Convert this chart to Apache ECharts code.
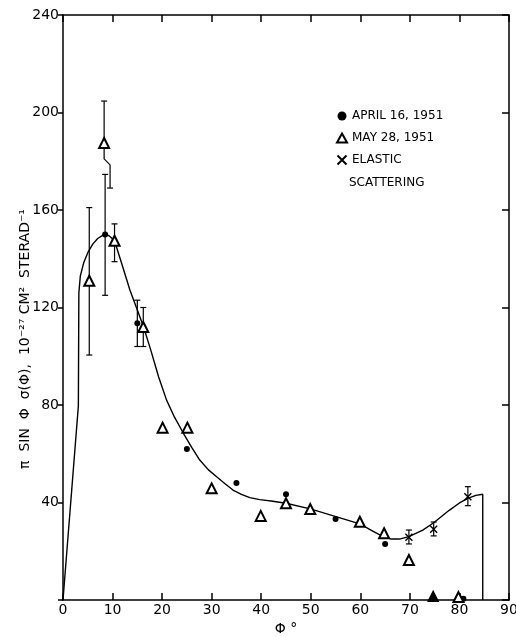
<!DOCTYPE html>
<html>
<head>
<meta charset="utf-8">
<script src="https://cdn.jsdelivr.net/npm/echarts@6/dist/echarts.min.js"></script>
<style>
  html, body { margin: 0; padding: 0; background: #fff; }
  #chart { width: 516px; height: 637px; }
</style>
</head>
<body>
<div id="chart"></div>
<script>
// values: [phi (deg), value]
var april = [[8.5, 150], [15, 113.5], [25, 62], [35, 48], [45, 43.4], [55, 33.2], [65, 23], [80.8, 0.5]];
var may = [[5.3, 131], [8.3, 187.5], [10.4, 147.4], [16.2, 112], [20.1, 70.7], [25.1, 70.7], [30, 45.8],
           [39.9, 34.5], [45, 39.7], [49.9, 37.3], [59.9, 32.1], [64.8, 27.4], [69.8, 16.4], [79.8, 1.2]];
var mayFilled = [[74.7, 1.5]];
var elastic = [[69.8, 25.7], [74.8, 29], [81.7, 42.4]];
// error bars: [phi, low, high] ; the 8.3 deg one has its lower half drawn shifted
var errBars = [[5.3, 100.5, 161], [8.5, 125, 174.6], [10.4, 138.8, 154.3], [15, 104, 123], [16.2, 104, 120],
               [69.8, 23, 28.7], [74.8, 26.3, 32], [81.7, 38.7, 46.5]];
var errJog = [[8.3, 169, 204.7, 9.5, 181, 178.5]];
// fitted curve
var curve = [[0, 0], [3.1, 79.6], [3.2, 126], [3.5, 133], [4.2, 138.5], [5, 142.5], [6, 146], [7, 148.3],
             [8, 149.6], [8.6, 150], [9.3, 149.4], [10.4, 147.4], [12, 137], [13.5, 127.2], [15, 119],
             [16.2, 112.4], [17.7, 102.6], [19.3, 91.5], [20.9, 82], [22.5, 75], [24.3, 68.4], [26, 62.5],
             [27.6, 57.4], [29.3, 53.5], [31, 50.6], [32.7, 47.7], [34.3, 45.1], [36, 43.3], [37.7, 42],
             [39.7, 41.2], [42, 40.6], [45, 39.7], [49.9, 37.4], [54.9, 34.3], [59.9, 31.2], [62.6, 28.2],
             [64.6, 26], [66.3, 25], [67.9, 25], [69.8, 26], [72.6, 28.7], [74.8, 31.7], [78, 36.9],
             [80, 39.8], [81.7, 41.7], [83.3, 42.9], [84.7, 43.4], [84.7, 0]];

var FONT = 'DejaVu Sans';
var crossPath = 'path://M0,0L10,10M10,0L0,10';

var chart = echarts.init(document.getElementById('chart'));

function errItem(params, api) {
  var x = api.value(0);
  var top = api.coord([x, api.value(2)]);
  var bot = api.coord([x, api.value(1)]);
  var c = 3;
  return {
    type: 'group',
    children: [
      { type: 'line', shape: { x1: top[0], y1: top[1], x2: bot[0], y2: bot[1] }, style: { stroke: '#000', lineWidth: 1.2 } },
      { type: 'line', shape: { x1: top[0] - c, y1: top[1], x2: top[0] + c, y2: top[1] }, style: { stroke: '#000', lineWidth: 1.2 } },
      { type: 'line', shape: { x1: bot[0] - c, y1: bot[1], x2: bot[0] + c, y2: bot[1] }, style: { stroke: '#000', lineWidth: 1.2 } }
    ]
  };
}

function jogItem(params, api) {
  var x = api.value(0), xl = api.value(3);
  var top = api.coord([x, api.value(2)]);
  var j1 = api.coord([x, api.value(4)]);
  var j2 = api.coord([xl, api.value(5)]);
  var bot = api.coord([xl, api.value(1)]);
  var c = 3;
  return {
    type: 'group',
    children: [
      { type: 'polyline', shape: { points: [top, j1, j2, bot] }, style: { stroke: '#000', fill: 'none', lineWidth: 1.2 } },
      { type: 'line', shape: { x1: top[0] - c, y1: top[1], x2: top[0] + c, y2: top[1] }, style: { stroke: '#000', lineWidth: 1.2 } },
      { type: 'line', shape: { x1: bot[0] - c, y1: bot[1], x2: bot[0] + c, y2: bot[1] }, style: { stroke: '#000', lineWidth: 1.2 } }
    ]
  };
}

function axisLine() {
  return { show: true, onZero: false, lineStyle: { color: '#000', width: 1.5 } };
}
function ticks(inside, len) {
  return { show: true, inside: inside, length: len, lineStyle: { color: '#000', width: 1.5 } };
}
var blankLabel = { show: true, formatter: function () { return ''; } };

chart.setOption({
  animation: false,
  backgroundColor: '#fff',
  grid: { left: 63, right: 7, top: 15, bottom: 37, outerBoundsMode: 'none' },
  legend: {
    data: ['APRIL 16, 1951', 'MAY 28, 1951', 'ELASTIC SCATTERING'],
    orient: 'vertical',
    left: 331,
    top: 105,
    itemWidth: 10,
    itemHeight: 9,
    itemGap: 10,
    formatter: function (n) { return n === 'ELASTIC SCATTERING' ? 'ELASTIC' : n; },
    textStyle: { color: '#000', fontFamily: FONT, fontSize: 12 }
  },
  xAxis: [{
    type: 'value', min: 0, max: 90, interval: 10,
    name: 'Φ °', nameLocation: 'middle', nameGap: 10,
    nameTextStyle: { color: '#000', fontFamily: FONT, fontSize: 14 },
    axisLine: axisLine(),
    axisTick: ticks(true, 7),
    axisLabel: { color: '#000', fontFamily: FONT, fontSize: 14, margin: 3 },
    splitLine: { show: false }
  }, {
    type: 'value', position: 'top', min: 0, max: 90, interval: 10,
    axisLine: axisLine(),
    axisTick: ticks(true, 7),
    axisLabel: blankLabel,
    splitLine: { show: false }
  }],
  yAxis: [{
    type: 'value', min: 0, max: 240, interval: 40,
    axisLine: axisLine(),
    axisTick: ticks(false, 5),
    axisLabel: {
      color: '#000', fontFamily: FONT, fontSize: 14, margin: 4,
      formatter: function (v) { return v === 0 ? '' : v; }
    },
    splitLine: { show: false }
  }, {
    type: 'value', position: 'right', min: 0, max: 240, interval: 40,
    axisLine: axisLine(),
    axisTick: ticks(true, 7),
    axisLabel: blankLabel,
    splitLine: { show: false }
  }],
  graphic: [{
    type: 'text', x: 25, y: 339, rotation: Math.PI / 2,
    style: {
      text: 'π  SIN  Φ  σ(Φ),  10⁻²⁷ CM²  STERAD⁻¹',
      font: '14px "DejaVu Sans"', fill: '#000', align: 'center', verticalAlign: 'middle'
    }
  }, {
    type: 'text', x: 349, y: 183,
    style: { text: 'SCATTERING', font: '12px "DejaVu Sans"', fill: '#000', align: 'left', verticalAlign: 'middle' }
  }],
  series: [{
    type: 'line', name: 'curve', data: curve, symbol: 'none', smooth: false,
    lineStyle: { color: '#000', width: 1.4 }, z: 2
  }, {
    type: 'custom', name: 'err', data: errBars, renderItem: errItem, z: 3
  }, {
    type: 'custom', name: 'errJog', data: errJog, renderItem: jogItem, z: 3
  }, {
    type: 'scatter', name: 'APRIL 16, 1951', data: april, symbol: 'circle', symbolSize: 6,
    itemStyle: { color: '#000', opacity: 1 }, z: 5
  }, {
    type: 'scatter', name: 'MAY 28, 1951', symbol: 'emptyTriangle', symbolSize: 10,
    data: may.concat(mayFilled.map(function (p) { return { value: p, symbol: 'triangle' }; })),
    itemStyle: { color: '#000', borderColor: '#000', borderWidth: 1.4, opacity: 1 }, z: 5
  }, {
    type: 'scatter', name: 'ELASTIC SCATTERING', data: elastic, symbol: crossPath, symbolSize: 7,
    itemStyle: { color: '#000', borderColor: '#000', borderWidth: 1.4, opacity: 1 }, z: 5
  }]
});
</script>
</body>
</html>
